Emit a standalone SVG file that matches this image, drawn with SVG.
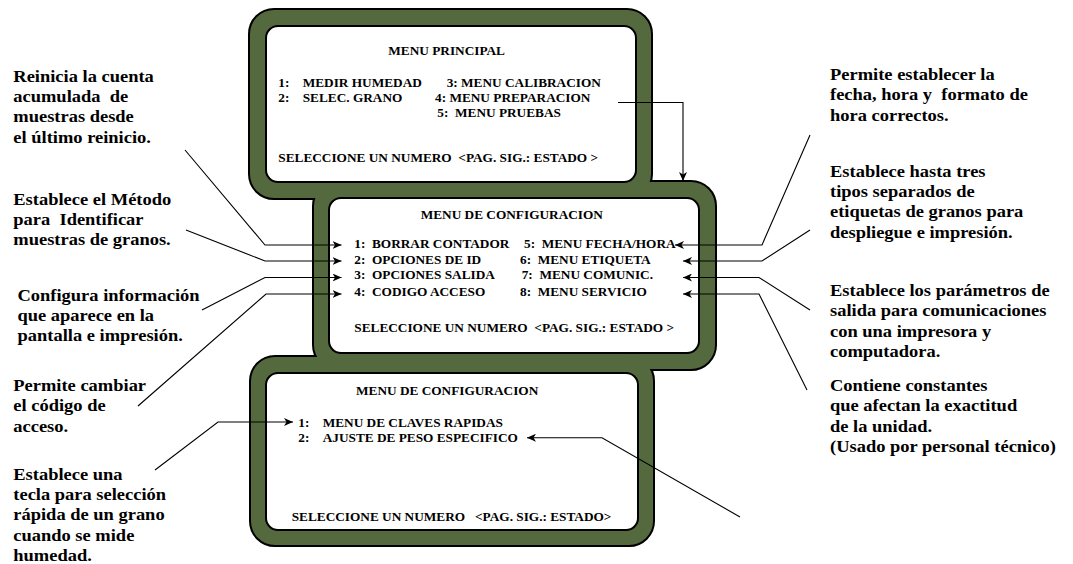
<svg xmlns="http://www.w3.org/2000/svg" width="1073" height="564" viewBox="0 0 1073 564">
  <defs>
    <style>
      text { font-family: 'Liberation Serif', 'DejaVu Serif', 'Times New Roman', Times, serif; font-weight: bold; fill: #000; white-space: pre; }
      .scr { font-size: 12.3px; }
      .note { font-size: 16.5px; }
      .rim { fill: #55693f; stroke: #000; stroke-width: 4; }
      .rimfill { fill: #55693f; stroke: none; }
      .glass { fill: #fff; stroke: #000; stroke-width: 2; }
      .lead { fill: none; stroke: #000; stroke-width: 1.1; marker-end: url(#head); }
    </style>
    <marker id="head" markerUnits="userSpaceOnUse" markerWidth="9" markerHeight="8" refX="9" refY="4" orient="auto">
      <path d="M0,0 L9,4 L0,8 L2.5,4 z" fill="#000"/>
    </marker>
  </defs>

  <rect width="1073" height="564" fill="#fff"/>

  <!-- screen bezels: outlines first, then fills merge the overlapping rims -->
  <g id="bezels">
    <rect class="rim" x="250" y="10" width="401" height="188" rx="24"/>
    <rect class="rim" x="314" y="182" width="401" height="187" rx="24"/>
    <rect class="rim" x="251" y="357" width="402" height="188" rx="24"/>
    <rect class="rimfill" x="250" y="10" width="401" height="188" rx="24"/>
    <rect class="rimfill" x="314" y="182" width="401" height="187" rx="24"/>
    <rect class="rimfill" x="251" y="357" width="402" height="188" rx="24"/>
  </g>

  <!-- main menu screen -->
  <g id="menu-principal">
    <rect class="glass" x="266" y="26" width="370" height="156" rx="12"/>
    <text class="scr" transform="translate(388.3 55) scale(1.08 1)">MENU PRINCIPAL</text>
    <text class="scr" transform="translate(278.3 87.3) scale(1.08 1)">1:</text>
    <text class="scr" transform="translate(302.7 87.3) scale(1.08 1)">MEDIR HUMEDAD</text>
    <text class="scr" transform="translate(446.7 87.3) scale(1.08 1)">3: MENU CALIBRACION</text>
    <text class="scr" transform="translate(278.3 101.7) scale(1.08 1)">2:</text>
    <text class="scr" transform="translate(302.7 101.7) scale(1.08 1)">SELEC. GRANO</text>
    <text class="scr" transform="translate(435 101.7) scale(1.08 1)">4: MENU PREPARACION</text>
    <text class="scr" transform="translate(437.3 116.7) scale(1.08 1)">5:  MENU PRUEBAS</text>
    <text class="scr" transform="translate(278.3 162.3) scale(1.08 1)">SELECCIONE UN NUMERO  &lt;PAG. SIG.: ESTADO &gt;</text>
  </g>

  <!-- configuration menu, page 1 -->
  <g id="menu-config-1">
    <rect class="glass" x="329" y="198" width="370" height="155" rx="12"/>
    <text class="scr" transform="translate(420.7 219.3) scale(1.08 1)">MENU DE CONFIGURACION</text>
    <text class="scr" transform="translate(354.3 248) scale(1.08 1)">1:  BORRAR CONTADOR</text>
    <text class="scr" transform="translate(524 248) scale(1.08 1)">5:  MENU FECHA/HORA</text>
    <text class="scr" transform="translate(354.3 263.5) scale(1.08 1)">2:  OPCIONES DE ID</text>
    <text class="scr" transform="translate(520 263.5) scale(1.08 1)">6:  MENU ETIQUETA</text>
    <text class="scr" transform="translate(354.3 279.3) scale(1.08 1)">3:  OPCIONES SALIDA</text>
    <text class="scr" transform="translate(521.7 279.3) scale(1.08 1)">7:  MENU COMUNIC.</text>
    <text class="scr" transform="translate(354.3 295.5) scale(1.08 1)">4:  CODIGO ACCESO</text>
    <text class="scr" transform="translate(520 295.5) scale(1.08 1)">8:  MENU SERVICIO</text>
    <text class="scr" transform="translate(354.3 331.7) scale(1.08 1)">SELECCIONE UN NUMERO  &lt;PAG. SIG.: ESTADO &gt;</text>
  </g>

  <!-- configuration menu, page 2 -->
  <g id="menu-config-2">
    <rect class="glass" x="266" y="373" width="372" height="157" rx="12"/>
    <text class="scr" transform="translate(356 395) scale(1.08 1)">MENU DE CONFIGURACION</text>
    <text class="scr" transform="translate(298.3 427.3) scale(1.08 1)">1:</text>
    <text class="scr" transform="translate(322.7 427.3) scale(1.08 1)">MENU DE CLAVES RAPIDAS</text>
    <text class="scr" transform="translate(298.3 441.7) scale(1.08 1)">2:</text>
    <text class="scr" transform="translate(322.7 441.7) scale(1.08 1)">AJUSTE DE PESO ESPECIFICO</text>
    <text class="scr" transform="translate(291.7 520.7) scale(1.08 1)">SELECCIONE UN NUMERO   &lt;PAG. SIG.: ESTADO&gt;</text>
  </g>

  <!-- descriptions, left column -->
  <g id="note-borrar">
    <text class="note" transform="translate(13.3 81.5) scale(1.12 1)"><tspan x="0" y="0">Reinicia la cuenta</tspan><tspan x="0" y="20.5">acumulada  de</tspan><tspan x="0" y="41">muestras desde</tspan><tspan x="0" y="61.5">el último reinicio.</tspan></text>
  </g>
  <g id="note-id">
    <text class="note" transform="translate(13.3 204.5) scale(1.12 1)"><tspan x="0" y="0">Establece el Método</tspan><tspan x="0" y="20.5">para  Identificar</tspan><tspan x="0" y="41">muestras de granos.</tspan></text>
  </g>
  <g id="note-salida">
    <text class="note" transform="translate(17.5 300.5) scale(1.12 1)"><tspan x="0" y="0">Configura información</tspan><tspan x="0" y="20.5">que aparece en la</tspan><tspan x="0" y="41">pantalla e impresión.</tspan></text>
  </g>
  <g id="note-acceso">
    <text class="note" transform="translate(13.3 391) scale(1.12 1)"><tspan x="0" y="0">Permite cambiar</tspan><tspan x="0" y="20.5">el código de</tspan><tspan x="0" y="41">acceso.</tspan></text>
  </g>
  <g id="note-claves">
    <text class="note" transform="translate(13.3 479.5) scale(1.12 1)"><tspan x="0" y="0">Establece una</tspan><tspan x="0" y="20.5">tecla para selección</tspan><tspan x="0" y="41">rápida de un grano</tspan><tspan x="0" y="61.5">cuando se mide</tspan><tspan x="0" y="82">humedad.</tspan></text>
  </g>

  <!-- descriptions, right column -->
  <g id="note-fecha">
    <text class="note" transform="translate(830 80) scale(1.12 1)"><tspan x="0" y="0">Permite establecer la</tspan><tspan x="0" y="20.5">fecha, hora y  formato de</tspan><tspan x="0" y="41">hora correctos.</tspan></text>
  </g>
  <g id="note-etiqueta">
    <text class="note" transform="translate(830 176.5) scale(1.12 1)"><tspan x="0" y="0">Establece hasta tres</tspan><tspan x="0" y="20.5">tipos separados de</tspan><tspan x="0" y="41">etiquetas de granos para</tspan><tspan x="0" y="61.5">despliegue e impresión.</tspan></text>
  </g>
  <g id="note-comunic">
    <text class="note" transform="translate(830 296) scale(1.12 1)"><tspan x="0" y="0">Establece los parámetros de</tspan><tspan x="0" y="20.5">salida para comunicaciones</tspan><tspan x="0" y="41">con una impresora y</tspan><tspan x="0" y="61.5">computadora.</tspan></text>
  </g>
  <g id="note-servicio">
    <text class="note" transform="translate(830 391) scale(1.12 1)"><tspan x="0" y="0">Contiene constantes</tspan><tspan x="0" y="20.5">que afectan la exactitud</tspan><tspan x="0" y="41">de la unidad.</tspan><tspan x="0" y="61.5">(Usado por personal técnico)</tspan></text>
  </g>

  <!-- leader lines and arrows -->
  <g id="connectors">
    <polyline class="lead" points="618,102.5 683,102.5 683,181"/>
    <polyline class="lead" points="185,150 265,245 341.5,245"/>
    <polyline class="lead" points="186,230 265,261 341.5,261"/>
    <polyline class="lead" points="202,310 265,277.5 341.5,277.5"/>
    <polyline class="lead" points="138,406 266,294 341.5,294"/>
    <polyline class="lead" points="155,470 218,422 293,422"/>
    <polyline class="lead" points="810,135 762,245 675,245"/>
    <polyline class="lead" points="810,230 762,261 683,261"/>
    <polyline class="lead" points="810,310 759,277.5 683,277.5"/>
    <polyline class="lead" points="807,390 759,294 683,294"/>
    <polyline class="lead" points="740,517 602,437.7 527,437.7"/>
  </g>
</svg>
